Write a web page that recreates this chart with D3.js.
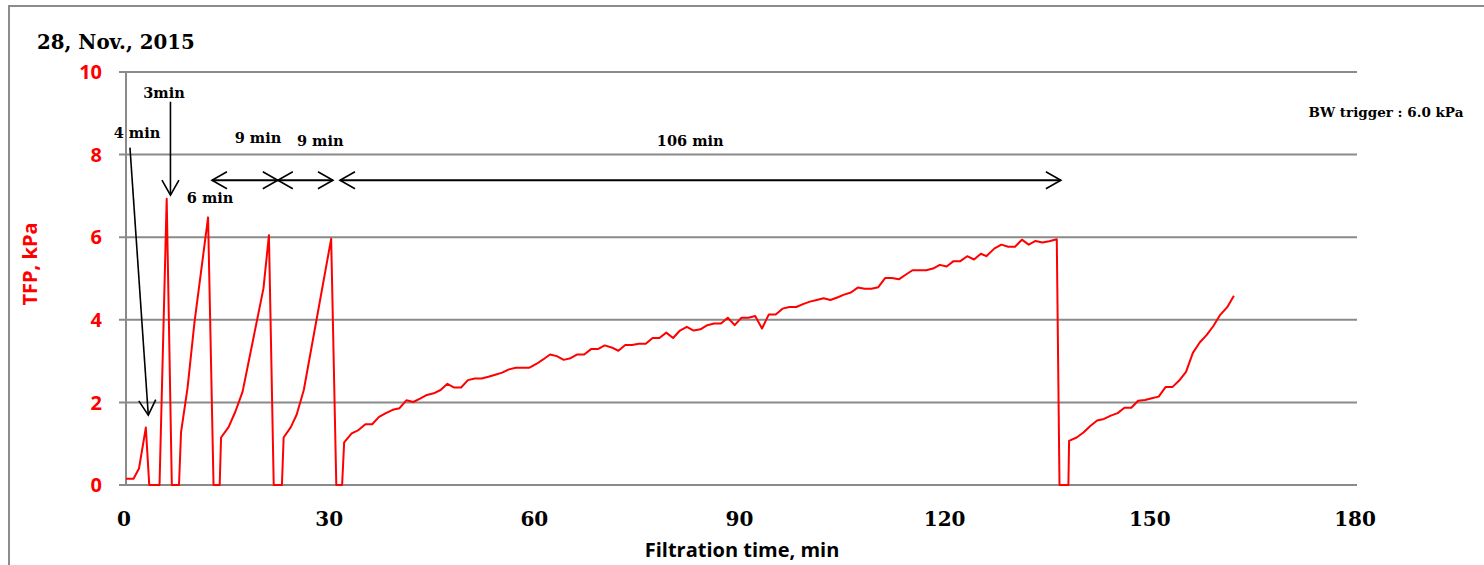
<!DOCTYPE html>
<html>
<head>
<meta charset="utf-8">
<script src="https://cdn.jsdelivr.net/npm/d3@7"></script>
<style>
  html, body { margin: 0; padding: 0; background: #fff; }
  svg { display: block; }
  .serif { font-family: "DejaVu Serif", serif; font-weight: bold; }
  .sans { font-family: "Open Sans", sans-serif; font-weight: bold; }
</style>
</head>
<body>
<svg class="chart"></svg>
<script>
/*Filtration time (min)*/
const timeMin = [
  0, 1.1, 1.9, 2.9, 3.4,
  4.9, 5.95, 6.7,
  7.75, 8.05, 9, 10, 12, 12.8,
  13.7, 13.9, 15, 16, 17.05, 20.1, 20.9, 21.6,
  22.8, 23.05, 24.1, 24.95, 26, 30, 30.75,
  31.6, 31.9, 33, 34, 35, 36, 37, 38, 39, 40, 41, 42, 43, 44, 45, 46, 47, 48, 49, 50,
  51, 52, 53, 54, 55, 56, 57, 58, 59, 60, 61, 62, 63, 64, 65, 66, 67, 68, 69, 70,
  71, 72, 73, 74, 75, 76, 77, 78, 79, 80, 81, 82, 83, 84, 85, 86, 87, 88, 89, 90,
  91, 92, 93, 94, 95, 96, 97, 98, 99, 100, 101, 102, 103, 104, 105, 106, 107, 108, 109, 110,
  111, 112, 113, 114, 115, 116, 117, 118, 119, 120, 121, 122, 123, 124, 125, 125.8, 127, 128, 129, 130,
  131, 132, 133, 134, 135, 136.1, 136.5,
  137.8, 137.9, 139, 140, 141, 142, 143, 144, 145, 146, 147, 148, 149, 150,
  151, 152, 153, 154, 155, 156, 157, 158, 159, 160, 161, 162
]

/*Trans-filter pressure (kPa)*/
const tfpKPa = [
  0.15, 0.15, 0.4, 1.39, 0,
  0, 6.93, 0,
  0, 1.28, 2.35, 3.92, 6.48, 0,
  0, 1.15, 1.4, 1.78, 2.26, 4.76, 6.05, 0,
  0, 1.15, 1.4, 1.7, 2.3, 5.96, 0,
  0, 1.03, 1.25, 1.33, 1.47, 1.47, 1.65, 1.74, 1.82, 1.86, 2.05, 2.01, 2.09, 2.18, 2.22, 2.30, 2.45, 2.36, 2.36, 2.54,
  2.58, 2.58, 2.62, 2.67, 2.72, 2.80, 2.84, 2.84, 2.84, 2.93, 3.04, 3.16, 3.12, 3.03, 3.07, 3.16, 3.16, 3.29, 3.29, 3.38,
  3.33, 3.25, 3.39, 3.39, 3.42, 3.42, 3.56, 3.56, 3.69, 3.56, 3.74, 3.83, 3.74, 3.77, 3.87, 3.91, 3.91, 4.05, 3.87, 4.05,
  4.05, 4.09, 3.79, 4.13, 4.13, 4.27, 4.31, 4.31, 4.38, 4.44, 4.48, 4.52, 4.48, 4.54, 4.61, 4.66, 4.78, 4.75, 4.75, 4.79,
  5.01, 5.01, 4.98, 5.09, 5.20, 5.20, 5.20, 5.24, 5.33, 5.29, 5.42, 5.42, 5.54, 5.46, 5.60, 5.54, 5.73, 5.82, 5.77, 5.77,
  5.94, 5.82, 5.91, 5.87, 5.90, 5.95, 0,
  0, 1.07, 1.15, 1.27, 1.43, 1.56, 1.60, 1.68, 1.74, 1.87, 1.87, 2.04, 2.06, 2.10,
  2.14, 2.37, 2.37, 2.53, 2.74, 3.20, 3.45, 3.63, 3.85, 4.12, 4.30, 4.58
]

const xTicks = [0, 30, 60, 90, 120, 150, 180]
const yTicks = [0, 2, 4, 6, 8, 10]

/*Cycle annotations (text, time, pressure)*/
const cycleLabels = [
  ["3min", 5.56, 9.37],
  ["4 min", 1.6, 8.4],
  ["6 min", 12.3, 6.83],
  ["9 min", 19.3, 8.27],
  ["9 min", 28.4, 8.22],
  ["106 min", 82.5, 8.21]
]
/*Arrows: [t1, v1, t2, v2, double headed]*/
const cycleArrows = [
  [6.5, 9.28, 6.5, 7.02, false],
  [0.58, 8.17, 3.26, 1.69, false],
  [12.57, 7.38, 22.2, 7.38, true],
  [22.2, 7.38, 30.26, 7.38, true],
  [31.29, 7.38, 136.7, 7.38, true]
]

const W = 1484, H = 565
const x0 = 126, x1 = 1357, yTop = 72, yBot = 485

const svg = d3.select(".chart")
    .attr("width", W)
    .attr("height", H)

/*Outer frame*/
svg.append("rect")
    .attr("x", 9).attr("y", 6)
    .attr("width", W + 20).attr("height", H + 20)
    .attr("fill", "none")
    .attr("stroke", "#8c8c8c")
    .attr("stroke-width", 2)

const x = d3.scaleLinear().domain([0, 180]).range([x0, x1])
const y = d3.scaleLinear().domain([0, 10]).range([yBot, yTop])

/*Horizontal gridlines, with the small tick stub left of the axis*/
svg.append("g")
  .selectAll("line")
  .data(yTicks)
  .enter()
  .append("line")
    .attr("x1", x0 - 7).attr("x2", x1)
    .attr("y1", d => y(d)).attr("y2", d => y(d))
    .attr("stroke", "#8a8a8a")
    .attr("stroke-width", 2)

/*Vertical axis line*/
svg.append("line")
    .attr("x1", x0).attr("x2", x0)
    .attr("y1", yTop).attr("y2", yBot)
    .attr("stroke", "#8a8a8a")
    .attr("stroke-width", 2)

/*Y tick labels*/
svg.append("g")
  .selectAll("text")
  .data(yTicks)
  .enter()
  .append("text")
    .attr("class", "sans")
    .attr("x", 102)
    .attr("y", d => y(d))
    .attr("dy", "0.36em")
    .attr("text-anchor", "end")
    .attr("fill", "#ff0000")
    .style("font-size", "20px")
    .text(d => d)

/*X tick labels*/
svg.append("g")
  .selectAll("text")
  .data(xTicks)
  .enter()
  .append("text")
    .attr("class", "serif")
    .attr("x", d => x(d) - 2)
    .attr("y", 526)
    .attr("text-anchor", "middle")
    .attr("fill", "#000")
    .style("font-size", "20px")
    .text(d => d)

/*Axis titles*/
svg.append("text")
    .attr("class", "sans")
    .attr("transform", "translate(37,264) rotate(-90)")
    .attr("text-anchor", "middle")
    .attr("fill", "#ff0000")
    .style("font-size", "20px")
    .text("TFP, kPa")

svg.append("text")
    .attr("class", "sans")
    .attr("x", 742)
    .attr("y", 557)
    .attr("text-anchor", "middle")
    .attr("fill", "#000")
    .style("font-size", "20px")
    .text("Filtration time, min")

/*Title and trigger note*/
svg.append("text")
    .attr("class", "serif")
    .attr("x", 37).attr("y", 49)
    .style("font-size", "19.8px")
    .text("28, Nov., 2015")

svg.append("text")
    .attr("class", "serif")
    .attr("x", 1386).attr("y", 117)
    .attr("text-anchor", "middle")
    .style("font-size", "13.5px")
    .text("BW trigger : 6.0 kPa")

/*The TFP line*/
const pts = timeMin.map((t, i) => [t, tfpKPa[i]])
svg.append("path")
    .datum(pts)
    .attr("fill", "none")
    .attr("stroke", "#ff0000")
    .attr("stroke-width", 2)
    .attr("stroke-linejoin", "round")
    .attr("d", d3.line().x(d => x(d[0])).y(d => y(d[1])))

/*Open arrow heads*/
svg.append("defs").append("marker")
    .attr("id", "head")
    .attr("markerUnits", "userSpaceOnUse")
    .attr("viewBox", "-17 -10 19 20")
    .attr("markerWidth", 19).attr("markerHeight", 20)
    .attr("refX", 0).attr("refY", 0)
    .attr("orient", "auto-start-reverse")
  .append("path")
    .attr("d", "M-15,-8.5L0,0L-15,8.5")
    .attr("fill", "none")
    .attr("stroke", "#000")
    .attr("stroke-width", 1.6)

svg.append("g")
  .selectAll("line")
  .data(cycleArrows)
  .enter()
  .append("line")
    .attr("x1", d => x(d[0])).attr("y1", d => y(d[1]))
    .attr("x2", d => x(d[2])).attr("y2", d => y(d[3]))
    .attr("stroke", "#000")
    .attr("stroke-width", d => d[4] ? 2 : 1.6)
    .attr("marker-end", "url(#head)")
    .attr("marker-start", d => d[4] ? "url(#head)" : null)

svg.append("g")
  .selectAll("text")
  .data(cycleLabels)
  .enter()
  .append("text")
    .attr("class", "serif")
    .attr("x", d => x(d[1]))
    .attr("y", d => y(d[2]))
    .attr("text-anchor", "middle")
    .style("font-size", "14.5px")
    .text(d => d[0])
</script>
</body>
</html>
